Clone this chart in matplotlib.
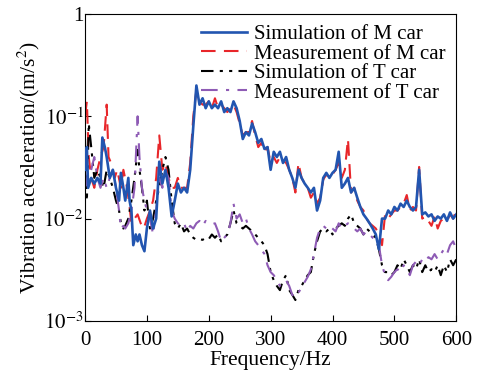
import numpy as np
import matplotlib
matplotlib.use("Agg")
import matplotlib.pyplot as plt

plt.rcParams['font.family'] = ['Liberation Serif', 'DejaVu Serif']
plt.rcParams['mathtext.fontset'] = 'stix'

# Simulation of M car
f_sim_m = [0, 3, 5, 10, 15, 20, 25, 28, 32, 35, 40, 45, 50, 55, 58, 62, 65, 70, 72, 75,
           78, 82, 85, 88, 92, 96, 100, 105, 110, 115, 120, 125, 130, 135, 140, 145, 150,
           155, 160, 165, 170, 175, 180, 185, 190, 195, 200, 205, 210, 215, 220, 225, 230,
           235, 240, 245, 250, 255, 260, 265, 270, 275, 280, 285, 290, 295, 300, 305, 310,
           315, 320, 325, 330, 335, 340, 345, 350, 355, 360, 365, 370, 375, 380, 385, 390,
           395, 400, 405, 410, 415, 420, 425, 430, 435, 440, 445, 450, 455, 460, 465, 470,
           475, 480, 485, 490, 495, 500, 505, 510, 515, 520, 525, 530, 535, 540, 545, 550,
           555, 560, 565, 570, 575, 580, 585, 590, 595, 600]
v_sim_m = [0.03, 0.05, 0.02, 0.025, 0.022, 0.025, 0.022, 0.062, 0.05, 0.04, 0.025, 0.03,
           0.02, 0.015, 0.028, 0.02, 0.015, 0.025, 0.015, 0.012, 0.0055, 0.007, 0.006,
           0.007, 0.0055, 0.0048, 0.008, 0.012, 0.008, 0.01, 0.036, 0.022, 0.03, 0.02,
           0.0105, 0.015, 0.022, 0.018, 0.02, 0.018, 0.03, 0.08, 0.2, 0.13, 0.15, 0.12,
           0.14, 0.12, 0.13, 0.12, 0.14, 0.11, 0.12, 0.11, 0.14, 0.12, 0.09, 0.06, 0.07,
           0.065, 0.085, 0.07, 0.055, 0.06, 0.048, 0.05, 0.03, 0.045, 0.04, 0.045, 0.035,
           0.04, 0.03, 0.025, 0.02, 0.03, 0.025, 0.022, 0.02, 0.018, 0.02, 0.012, 0.015,
           0.025, 0.028, 0.025, 0.028, 0.03, 0.045, 0.02, 0.022, 0.025, 0.018, 0.02, 0.016,
           0.013, 0.011, 0.01, 0.009, 0.008, 0.007, 0.005, 0.01, 0.01, 0.012, 0.011, 0.013,
           0.012, 0.014, 0.013, 0.015, 0.013, 0.012, 0.013, 0.03, 0.011, 0.0115, 0.0105,
           0.011, 0.0095, 0.0105, 0.01, 0.011, 0.0095, 0.0115, 0.01, 0.011]

# Measurement of M car
f_mea_m = [0, 3, 6, 10, 15, 20, 25, 30, 35, 38, 42, 48, 52, 58, 62, 68, 72, 75, 80, 85,
           90, 95, 100, 105, 110, 115, 120, 125, 130, 135, 140, 145, 150, 155, 160, 165,
           170, 175, 180, 185, 190, 195, 200, 205, 210, 215, 220, 225, 230, 235, 240, 245,
           250, 255, 260, 265, 270, 275, 280, 285, 290, 295, 300, 305, 310, 315, 320, 325,
           330, 335, 340, 345, 350, 355, 360, 365, 370, 375, 380, 385, 390, 395, 400, 405,
           410, 415, 420, 425, 430, 435, 440, 445, 450, 455, 460, 465, 470, 475, 480, 485,
           490, 495, 500, 505, 510, 515, 520, 525, 530, 535, 540, 545, 550, 555, 560, 565,
           570, 575, 580, 585, 590, 595, 600]
v_mea_m = [0.1, 0.14, 0.04, 0.025, 0.02, 0.03, 0.04, 0.05, 0.13, 0.04, 0.035, 0.025, 0.03,
           0.02, 0.03, 0.02, 0.013, 0.009, 0.01, 0.011, 0.009, 0.008, 0.01, 0.012, 0.015,
           0.025, 0.065, 0.03, 0.035, 0.025, 0.02, 0.02, 0.025, 0.02, 0.02, 0.02, 0.035,
           0.1, 0.18, 0.14, 0.13, 0.13, 0.14, 0.12, 0.15, 0.12, 0.13, 0.12, 0.11, 0.12,
           0.13, 0.11, 0.085, 0.065, 0.07, 0.07, 0.09, 0.065, 0.05, 0.055, 0.045, 0.05,
           0.035, 0.04, 0.035, 0.04, 0.037, 0.035, 0.03, 0.025, 0.018, 0.035, 0.025, 0.022,
           0.02, 0.016, 0.018, 0.014, 0.016, 0.024, 0.027, 0.025, 0.027, 0.03, 0.035,
           0.025, 0.03, 0.06, 0.018, 0.02, 0.015, 0.013, 0.012, 0.01, 0.009, 0.0085, 0.008,
           0.007, 0.0055, 0.011, 0.01, 0.011, 0.012, 0.012, 0.013, 0.014, 0.017, 0.012,
           0.013, 0.012, 0.032, 0.01, 0.0105, 0.0095, 0.0085, 0.0105, 0.008, 0.0095, 0.01,
           0.0095, 0.011, 0.01, 0.012]

# T car (simulation and measurement share frequencies)
f_t = [0, 3, 6, 10, 15, 20, 25, 30, 35, 40, 45, 50, 55, 58, 62, 65, 70, 75, 80, 85, 88,
       92, 96, 100, 105, 110, 115, 120, 125, 130, 135, 140, 145, 150, 155, 160, 165, 170,
       175, 180, 185, 190, 195, 200, 205, 210, 215, 220, 225, 230, 235, 240, 245, 250,
       255, 260, 265, 270, 275, 280, 285, 290, 295, 300, 305, 310, 315, 320, 325, 330,
       335, 340, 345, 350, 355, 360, 365, 370, 375, 380, 385, 390, 395, 400, 405, 410,
       415, 420, 425, 430, 435, 440, 445, 450, 455, 460, 465, 470, 475, 480, 485, 490,
       495, 500, 505, 510, 515, 520, 525, 530, 535, 540, 545, 550, 555, 560, 565, 570,
       575, 580, 585, 590, 595, 600]
v_sim_t = [0.06, 0.015, 0.085, 0.05, 0.025, 0.03, 0.025, 0.02, 0.03, 0.025, 0.02, 0.015,
           0.012, 0.009, 0.008, 0.0085, 0.01, 0.015, 0.025, 0.047, 0.03, 0.02, 0.012,
           0.015, 0.008, 0.01, 0.015, 0.02, 0.03, 0.04, 0.03, 0.015, 0.009, 0.008, 0.009,
           0.0075, 0.008, 0.007, 0.0065, 0.0062, 0.0063, 0.0062, 0.0065, 0.0063, 0.007,
           0.0065, 0.007, 0.006, 0.0065, 0.007, 0.009, 0.012, 0.009, 0.0085, 0.008, 0.0085,
           0.008, 0.0075, 0.007, 0.0065, 0.006, 0.0055, 0.0045, 0.003, 0.0025, 0.0022,
           0.002, 0.0025, 0.0028, 0.002, 0.0018, 0.0016, 0.002, 0.0022, 0.0025, 0.0028,
           0.003, 0.0045, 0.006, 0.0075, 0.008, 0.0075, 0.008, 0.007, 0.008, 0.0085, 0.009,
           0.0085, 0.01, 0.011, 0.009, 0.0085, 0.008, 0.007, 0.008, 0.0075, 0.007, 0.0065,
           0.005, 0.0035, 0.003, 0.003, 0.0028, 0.003, 0.0035, 0.0032, 0.004, 0.0035,
           0.003, 0.0035, 0.0032, 0.004, 0.003, 0.0035, 0.003, 0.0032, 0.003, 0.0035,
           0.0028, 0.0035, 0.003, 0.004, 0.0035, 0.004]
v_mea_t = [0.03, 0.02, 0.025, 0.03, 0.04, 0.025, 0.02, 0.025, 0.02, 0.025, 0.03, 0.02,
           0.012, 0.008, 0.0085, 0.008, 0.009, 0.012, 0.02, 0.1, 0.04, 0.02, 0.015, 0.012,
           0.01, 0.007, 0.012, 0.025, 0.02, 0.03, 0.025, 0.012, 0.01, 0.009, 0.0085, 0.009,
           0.0075, 0.0085, 0.008, 0.009, 0.0095, 0.0085, 0.0095, 0.009, 0.0088, 0.009,
           0.0075, 0.006, 0.0065, 0.007, 0.009, 0.014, 0.01, 0.011, 0.009, 0.01, 0.008,
           0.007, 0.006, 0.0055, 0.005, 0.0045, 0.0035, 0.003, 0.0028, 0.0025, 0.0022,
           0.0024, 0.0025, 0.0022, 0.0018, 0.0017, 0.0019, 0.0021, 0.0024, 0.0027, 0.0032,
           0.0045, 0.0065, 0.008, 0.0085, 0.008, 0.0085, 0.008, 0.0075, 0.009, 0.008,
           0.0085, 0.009, 0.0085, 0.008, 0.0075, 0.008, 0.007, 0.0075, 0.007, 0.0065,
           0.006, 0.0055, 0.0035, 0.0028, 0.0025, 0.0027, 0.003, 0.0032, 0.003, 0.0035,
           0.0032, 0.0028, 0.0035, 0.0038, 0.0035, 0.004, 0.0038, 0.0042, 0.004, 0.0045,
           0.004, 0.0045, 0.005, 0.0045, 0.0055, 0.006, 0.005]

fig = plt.figure(figsize=(4.79, 3.78), dpi=100)
ax = fig.add_axes([0.1775, 0.151, 0.775, 0.812])

ax.plot(f_sim_m, v_sim_m, color='#2255b0', lw=1.9, label='Simulation of M car', zorder=3)
ax.plot(f_mea_m, v_mea_m, color='#e8262a', lw=1.5, dashes=(7, 4), label='Measurement of M car')
ax.plot(f_t, v_sim_t, color='black', lw=1.5, dashes=(6, 3, 1.5, 3, 1.5, 3), label='Simulation of T car')
ax.plot(f_t, v_mea_t, color='#8e5bb5', lw=1.5, dashes=(8, 4, 1.5, 4), label='Measurement of T car')

ax.set_yscale('log')
ax.set_xlim(0, 600)
ax.set_ylim(1e-3, 1)
ax.set_xticks([0, 100, 200, 300, 400, 500, 600])
ax.set_yticks([1e-3, 1e-2, 1e-1, 1])
ax.set_yticklabels(['$10^{-3}$', '$10^{-2}$', '$10^{-1}$', '1'])
ax.yaxis.set_minor_locator(matplotlib.ticker.NullLocator())
ax.tick_params(direction='in', labelsize=15, length=4, top=False, right=False)
ax.tick_params(axis='x', pad=7)
ax.tick_params(axis='y', pad=1)

ax.set_xlabel('Frequency/Hz', fontsize=15.5, labelpad=1)
ax.set_ylabel('Vibration acceleration/(m/s$^2$)', fontsize=15.5, labelpad=1)

ax.legend(loc='upper right', frameon=False, fontsize=15, handlelength=2.2,
          handletextpad=0.35, labelspacing=0.0, borderaxespad=0.1)

fig.savefig('out.png', dpi=100)
